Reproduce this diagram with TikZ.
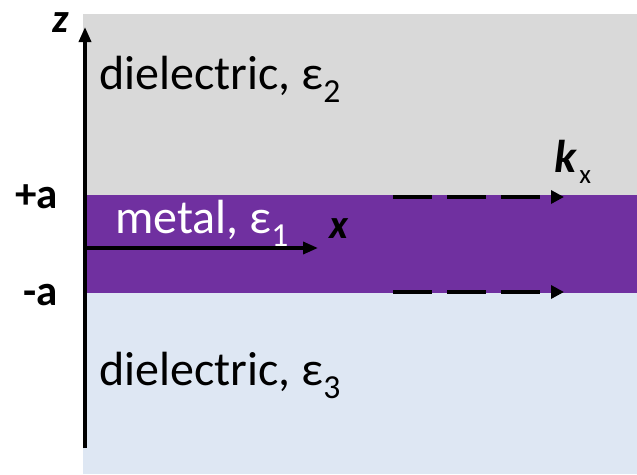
\documentclass[tikz,border=0pt]{standalone}
\usepackage{fontspec}
\setmainfont{Carlito}
\usetikzlibrary{arrows.meta}
\usetikzlibrary{positioning}
\definecolor{topgrey}{HTML}{D9D9D9}
\definecolor{metalpurple}{HTML}{7030A0}
\definecolor{botblue}{HTML}{DEE7F3}

\begin{document}
\begin{tikzpicture}[x=1pt, y=-1pt,
  axis/.style={line width=3.5pt, -{Triangle[length=15pt, width=12pt]}},
  wave/.style={line width=4pt, dash pattern=on 39pt off 15pt, -{Triangle[length=13pt, width=13pt]}},
  big/.style={font=\fontsize{48}{54}\selectfont, inner sep=0pt, anchor=base west},
  lbl/.style={font=\fontsize{43}{50}\selectfont\bfseries, inner sep=0pt, anchor=base west},
  axlbl/.style={font=\fontsize{41}{48}\selectfont\bfseries\itshape, inner sep=0pt, anchor=base west}]
\useasboundingbox (0,0) rectangle (637,474);
% layers
\fill[topgrey] (83,14) rectangle (637,195);
\fill[metalpurple] (83,195) rectangle (637,293);
\fill[botblue] (83,293) rectangle (637,474);
% text in the layers
\node[big](diel2) at (99,89) {dielectric, ε\textsubscript{2}};
\node[big, text=white](metal) at (115,233) {metal, ε\textsubscript{1}};
\node[big](diel3) at (99,385) {dielectric, ε\textsubscript{3}};
% axes
\coordinate (zbot) at (85,448);
\coordinate (ztop) at (85,27);
\coordinate (xorig) at (83,248);
\coordinate (xend) at (318,248);
\draw[axis](zbot)--(ztop);
\draw[axis](xorig)--(xend);
\node[axlbl, text height=20pt](z) at (52,32) {z};
\node[axlbl](x) at (329,238) {x};
\node[lbl](pa) at (15,208) {+a};
\node[lbl](ma) at (23,305) {-a};
% propagation
\coordinate (up1) at (393,197);
\coordinate (up2) at (564,197);
\coordinate (lo1) at (393,292);
\coordinate (lo2) at (564,292);
\draw[wave](up1)--(up2);
\draw[wave](lo1)--(lo2);
\node[axlbl, font=\fontsize{46}{52}\selectfont\bfseries\itshape](k) at (554,172)
  {k\kern3pt\raisebox{-11pt}{\fontsize{27}{30}\selectfont\normalfont x}};
\end{tikzpicture}
\end{document}
